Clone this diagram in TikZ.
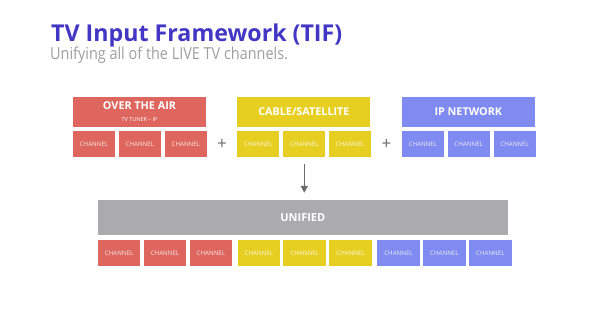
\documentclass[tikz,border=0pt]{standalone}
\usepackage{fontspec}
\setmainfont{Open Sans}
\usepackage{graphicx}
\usetikzlibrary{arrows.meta,positioning}
\definecolor{tifRed}{RGB}{222,102,94}
\definecolor{tifYellow}{RGB}{231,207,34}
\definecolor{tifBlue}{RGB}{127,139,240}
\definecolor{tifGray}{RGB}{171,171,174}
\definecolor{tifTitle}{RGB}{66,54,196}
\definecolor{tifSub}{gray}{0.62}
\definecolor{tifDark}{gray}{0.42}
\tikzset{
  head/.style={rectangle, minimum width=133pt, minimum height=30pt, inner sep=0pt, text=white, align=center, font=\bfseries\fontsize{10.8}{10.8}\selectfont},
  chan/.style={rectangle, minimum width=42pt, minimum height=26pt, inner sep=0pt, text=white, text opacity=0.85, font=\fontsize{6.2}{6.2}\selectfont},
  bchan/.style={chan, minimum width=42.6pt},
  plus/.style={inner sep=0pt, text=tifDark, font=\fontsize{17}{17}\selectfont},
  arrow/.style={-{Triangle[length=7pt,width=7pt]}, line width=1.4pt, draw=tifDark}
}
\newcommand{\tuner}{\mdseries\fontsize{5.5}{5.5}\selectfont}

\begin{document}
\begin{tikzpicture}[x=1pt,y=1pt]
  \useasboundingbox (0,0) rectangle (606,-335);
  \node[anchor=base west, inner sep=0pt, text=tifTitle, font=\bfseries\fontsize{23.2}{24}\selectfont] (title) at (51,-41.5) {TV Input Framework (TIF)};
  \node[anchor=base west, inner sep=0pt, text=tifSub, font=\fontsize{16.5}{17}\selectfont] (subtitle) at (50,-59.5) {\scalebox{0.875}[1]{Unifying all of the LIVE TV channels.}};
  % sources
  \node[head, fill=tifRed] (air) at (139.5,-112) {OVER THE AIR\\[1pt]{\tuner TV TUNER -- IP}};
  \node[head, fill=tifYellow, right=31pt of air] (cable) {CABLE/SATELLITE};
  \node[head, fill=tifBlue, right=31pt of cable] (ipnet) {IP NETWORK};
  \foreach \g/\c in {air/tifRed, cable/tifYellow, ipnet/tifBlue} {
    \node[chan, fill=\c, below right=4pt and 0pt of \g.south west] (\g1) {CHANNEL};
    \node[chan, fill=\c, right=3.5pt of \g1] (\g2) {CHANNEL};
    \node[chan, fill=\c, right=3.5pt of \g2] (\g3) {CHANNEL};
  }
  \path (air3) -- node[plus] (plusa) {+} (cable1);
  \path (cable3) -- node[plus] (plusb) {+} (ipnet1);
  % unified
  \node[head, fill=tifGray, minimum width=410pt, minimum height=35pt, font=\bfseries\fontsize{11}{11}\selectfont] (unified) at (302.8,-217.5) {UNIFIED};
  \draw[arrow, shorten <=6pt, shorten >=7pt] (cable2.south) -- (cable2.south |- unified.north);
  \node[bchan, fill=tifRed, below right=5pt and 0pt of unified.south west] (u1) {CHANNEL};
  \foreach \i/\c/\d in {2/tifRed/2.9, 3/tifRed/2.9, 4/tifYellow/4.9, 5/tifYellow/2.9, 6/tifYellow/2.9, 7/tifBlue/4.9, 8/tifBlue/2.9, 9/tifBlue/2.9} {
    \pgfmathtruncatemacro{\p}{\i-1}
    \node[bchan, fill=\c, right=\d pt of u\p] (u\i) {CHANNEL};
  }
\end{tikzpicture}
\end{document}
